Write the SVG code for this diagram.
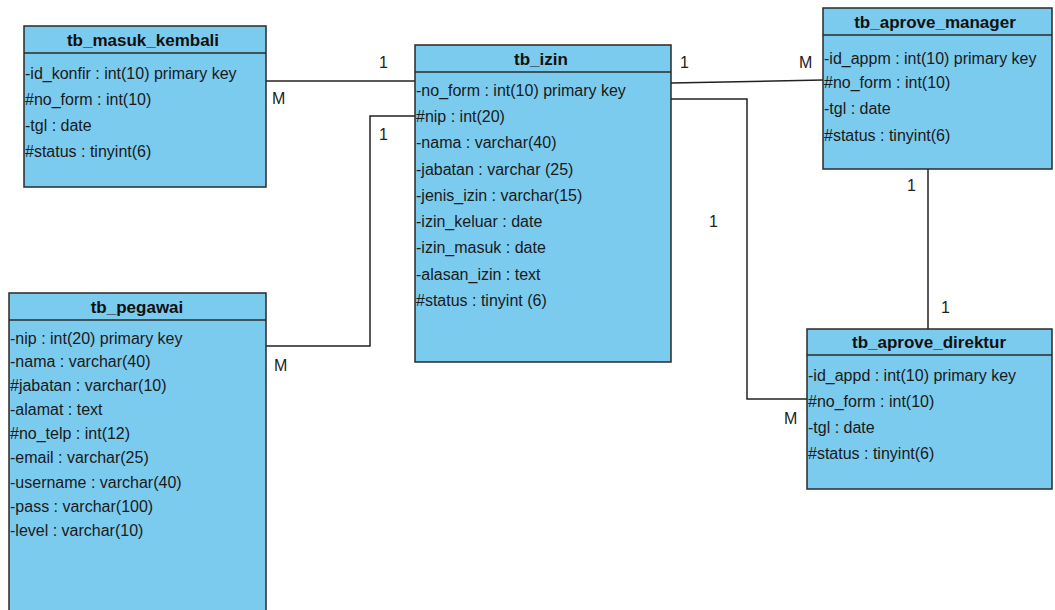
<svg xmlns="http://www.w3.org/2000/svg" width="1055" height="610" viewBox="0 0 1055 610">
<style>
.box{fill:#7BCBEF;stroke:#2a2a2a;stroke-width:1.5}
.sep{stroke:#2a2a2a;stroke-width:1.5}
.title{font-family:"Liberation Sans",Arial,sans-serif;font-weight:bold;font-size:17px;fill:#111;text-anchor:middle}
.attr{font-family:"Liberation Sans",Arial,sans-serif;font-size:16px;fill:#1a1a1a}
.lbl{font-family:"Liberation Sans",Arial,sans-serif;font-size:16px;fill:#222}
.conn{fill:none;stroke:#222;stroke-width:1.5}
</style>
<rect width="1055" height="610" fill="#ffffff"/>
<g id="connectors">
<polyline class="conn" points="266,81 415,81"/>
<polyline class="conn" points="266,346 370,346 370,116 415,116"/>
<polyline class="conn" points="671,83 823,80"/>
<polyline class="conn" points="671,99 747,99 747,399 807,399"/>
<polyline class="conn" points="928,169 928,329"/>
<text class="lbl" x="379" y="68">1</text>
<text class="lbl" x="272" y="104">M</text>
<text class="lbl" x="379" y="140">1</text>
<text class="lbl" x="274" y="371">M</text>
<text class="lbl" x="680" y="68">1</text>
<text class="lbl" x="799" y="68">M</text>
<text class="lbl" x="709" y="227">1</text>
<text class="lbl" x="907" y="191">1</text>
<text class="lbl" x="941" y="313">1</text>
<text class="lbl" x="784" y="424">M</text>
</g>
<g id="tb_masuk_kembali">
<rect class="box" x="24" y="26" width="242" height="161"/>
<line class="sep" x1="24" y1="53" x2="266" y2="53"/>
<text class="title" x="143" y="46">tb_masuk_kembali</text>
<text class="attr" x="25" y="79">-id_konfir : int(10) primary key</text>
<text class="attr" x="25" y="105">#no_form : int(10)</text>
<text class="attr" x="25" y="131">-tgl : date</text>
<text class="attr" x="25" y="157">#status : tinyint(6)</text>
</g>
<g id="tb_izin">
<rect class="box" x="415" y="45" width="256" height="317"/>
<line class="sep" x1="415" y1="72" x2="671" y2="72"/>
<text class="title" x="541" y="65">tb_izin</text>
<text class="attr" x="416" y="96">-no_form : int(10) primary key</text>
<text class="attr" x="416" y="122">#nip : int(20)</text>
<text class="attr" x="416" y="148">-nama : varchar(40)</text>
<text class="attr" x="416" y="175">-jabatan : varchar (25)</text>
<text class="attr" x="416" y="201">-jenis_izin : varchar(15)</text>
<text class="attr" x="416" y="227">-izin_keluar : date</text>
<text class="attr" x="416" y="253">-izin_masuk : date</text>
<text class="attr" x="416" y="280">-alasan_izin : text</text>
<text class="attr" x="416" y="306">#status : tinyint (6)</text>
</g>
<g id="tb_aprove_manager">
<rect class="box" x="823" y="8" width="229" height="161"/>
<line class="sep" x1="823" y1="35" x2="1052" y2="35"/>
<text class="title" x="935" y="28">tb_aprove_manager</text>
<text class="attr" x="824" y="64">-id_appm : int(10) primary key</text>
<text class="attr" x="824" y="88">#no_form : int(10)</text>
<text class="attr" x="824" y="114">-tgl : date</text>
<text class="attr" x="824" y="141">#status : tinyint(6)</text>
</g>
<g id="tb_pegawai">
<rect class="box" x="9" y="293" width="257" height="320"/>
<line class="sep" x1="9" y1="320" x2="266" y2="320"/>
<text class="title" x="137" y="313">tb_pegawai</text>
<text class="attr" x="10" y="344">-nip : int(20) primary key</text>
<text class="attr" x="10" y="367">-nama : varchar(40)</text>
<text class="attr" x="10" y="391">#jabatan : varchar(10)</text>
<text class="attr" x="10" y="415">-alamat : text</text>
<text class="attr" x="10" y="439">#no_telp : int(12)</text>
<text class="attr" x="10" y="463">-email : varchar(25)</text>
<text class="attr" x="10" y="488">-username : varchar(40)</text>
<text class="attr" x="10" y="512">-pass : varchar(100)</text>
<text class="attr" x="10" y="536">-level : varchar(10)</text>
</g>
<g id="tb_aprove_direktur">
<rect class="box" x="807" y="329" width="245" height="160"/>
<line class="sep" x1="807" y1="355" x2="1052" y2="355"/>
<text class="title" x="929" y="348">tb_aprove_direktur</text>
<text class="attr" x="808" y="381">-id_appd : int(10) primary key</text>
<text class="attr" x="808" y="407">#no_form : int(10)</text>
<text class="attr" x="808" y="433">-tgl : date</text>
<text class="attr" x="808" y="459">#status : tinyint(6)</text>
</g>
</svg>
